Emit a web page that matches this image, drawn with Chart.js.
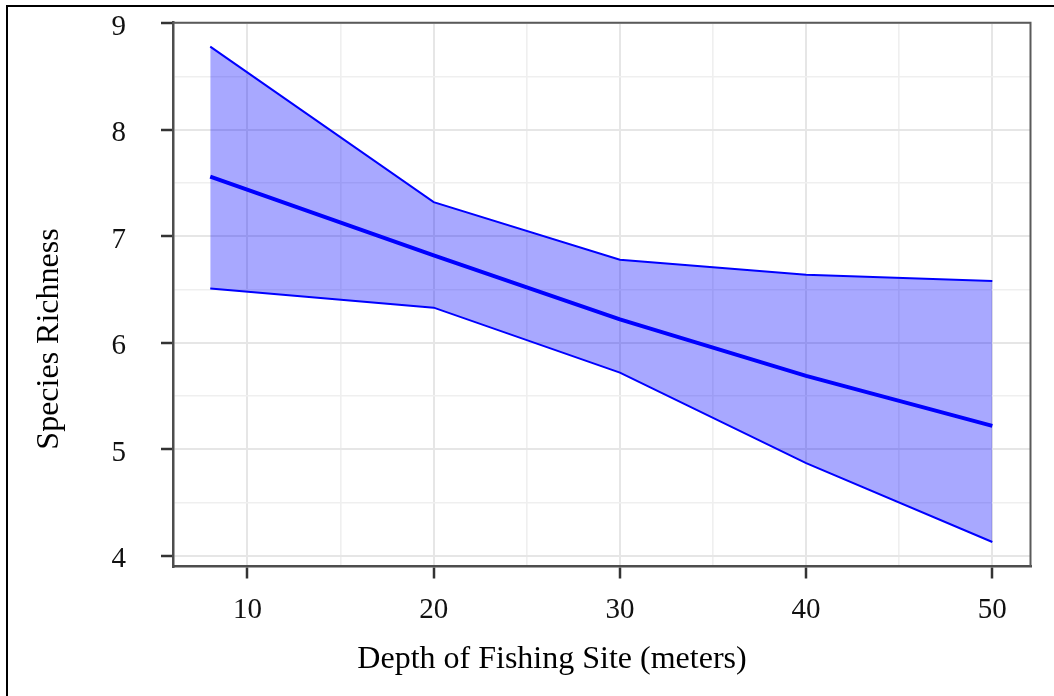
<!DOCTYPE html>
<html>
<head>
<meta charset="utf-8">
<script src="https://cdn.jsdelivr.net/npm/chart.js@4"></script>
<style>
html,body{margin:0;padding:0;background:#fff;}
#wrap{width:1054px;height:696px;}
</style>
</head>
<body>
<div id="wrap"><canvas id="c" width="1054" height="696"></canvas></div>
<script>
// ---- data ----
const depth  = [8, 20, 30, 40, 50];
const fitted = [7.56, 6.82, 6.22, 5.69, 5.22];
const upper  = [8.78, 7.32, 6.78, 6.64, 6.58];
const lower  = [6.51, 6.33, 5.72, 4.87, 4.13];

const xMajor = [10, 20, 30, 40, 50];
const xMinor = [15, 25, 35, 45];
const yMajor = [4, 5, 6, 7, 8, 9];
const yMinor = [4.5, 5.5, 6.5, 7.5, 8.5];

const xTitle = 'Depth of Fishing Site (meters)';
const yTitle = 'Species Richness';

const FONT = '"Liberation Serif", "Times New Roman", serif';
const toPts = ys => depth.map((d, i) => ({x: d, y: ys[i]}));

const decor = {
  id: 'decor',
  beforeDraw(chart) {
    const ctx = chart.ctx;
    ctx.save();
    ctx.fillStyle = '#fff';
    ctx.fillRect(0, 0, chart.width, chart.height);
    ctx.strokeStyle = '#000';
    ctx.lineWidth = 2;
    ctx.beginPath();
    ctx.moveTo(7, 696);
    ctx.lineTo(7, 6);
    ctx.lineTo(1054, 6);
    ctx.stroke();
    ctx.restore();
  },
  afterDraw(chart) {
    const ctx = chart.ctx, a = chart.chartArea;
    ctx.save();
    ctx.strokeStyle = '#5a5a5a';
    ctx.lineWidth = 2;
    ctx.beginPath();
    ctx.moveTo(a.left, a.top);
    ctx.lineTo(a.right, a.top);
    ctx.lineTo(a.right, a.bottom);
    ctx.stroke();
    ctx.fillStyle = '#000';
    ctx.font = '32px ' + FONT;
    ctx.textAlign = 'center';
    ctx.textBaseline = 'alphabetic';
    ctx.fillText(xTitle, 552, 668);
    ctx.translate(58, 339);
    ctx.rotate(-Math.PI / 2);
    ctx.fillText(yTitle, 0, 0);
    ctx.restore();
  }
};

const isMajorX = v => xMajor.includes(v);
const isMajorY = v => yMajor.includes(v);
const noPad = s => { s.paddingTop = 0; s.paddingBottom = 0; s.paddingLeft = 0; s.paddingRight = 0; };

new Chart(document.getElementById('c'), {
  type: 'line',
  data: {
    datasets: [
      {data: toPts(upper), borderColor: '#0000ff', borderWidth: 2, backgroundColor: 'rgba(0,0,255,0.34)', fill: '+1', pointRadius: 0, tension: 0},
      {data: toPts(lower), borderColor: '#0000ff', borderWidth: 2, fill: false, pointRadius: 0, tension: 0},
      {data: toPts(fitted), borderColor: '#0000ff', borderWidth: 4, fill: false, pointRadius: 0, tension: 0}
    ]
  },
  options: {
    responsive: false,
    animation: false,
    events: [],
    layout: {padding: {left: 0, top: 22.7, right: 23.5, bottom: 0}},
    plugins: {legend: {display: false}, tooltip: {enabled: false}},
    scales: {
      x: {
        type: 'linear', min: 6.0, max: 52.05,
        afterBuildTicks: s => { s.ticks = xMajor.concat(xMinor).sort((a,b)=>a-b).map(v => ({value: v})); },
        afterFit: s => { s.height = 696 - 566.5; noPad(s); },
        ticks: {
          autoSkip: false, maxRotation: 0, padding: 14, color: '#111',
          font: {family: FONT, size: 29},
          callback: v => isMajorX(v) ? String(v) : ''
        },
        grid: {
          color: c => isMajorX(c.tick.value) ? '#e6e6e6' : '#efefef',
          lineWidth: c => isMajorX(c.tick.value) ? 2 : 1.6,
          tickColor: c => isMajorX(c.tick.value) ? '#333' : 'rgba(0,0,0,0)',
          tickWidth: 2.5, tickLength: 12, drawTicks: true
        },
        border: {display: true, color: '#4d4d4d', width: 2.5}
      },
      y: {
        type: 'linear', min: 3.9, max: 9.005,
        afterBuildTicks: s => { s.ticks = yMajor.concat(yMinor).sort((a,b)=>a-b).map(v => ({value: v})); },
        afterFit: s => { s.width = 173; noPad(s); },
        ticks: {
          autoSkip: false, padding: 35, labelOffset: 4, color: '#111',
          font: {family: FONT, size: 29},
          callback: v => isMajorY(v) ? String(v) : ''
        },
        grid: {
          color: c => isMajorY(c.tick.value) ? '#e6e6e6' : '#efefef',
          lineWidth: c => isMajorY(c.tick.value) ? 2 : 1.6,
          tickColor: c => isMajorY(c.tick.value) ? '#333' : 'rgba(0,0,0,0)',
          tickWidth: 2.5, tickLength: 12, drawTicks: true
        },
        border: {display: true, color: '#4d4d4d', width: 2.5}
      }
    }
  },
  plugins: [decor]
});
</script>
</body>
</html>
